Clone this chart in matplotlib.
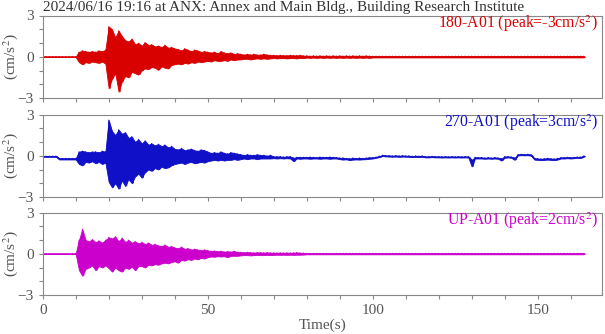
import numpy as np
import matplotlib
matplotlib.use("Agg")
import matplotlib.pyplot as plt

plt.rcParams["font.family"] = ["Liberation Serif", "DejaVu Serif"]
plt.rcParams["mathtext.fontset"] = "stix"

# time of each envelope sample (s), one per second
times = np.arange(0, 165)

# 180-A01: per-second upper / lower envelope (cm/s^2)
hi_180 = [
    0.02, 0.02, 0.02, 0.02, 0.02, 0.02, 0.02, 0.02, 0.02, 0.02,
    0.02, 0.35, 0.45, 0.4, 0.35, 0.4, 0.35, 0.45, 0.4, 0.5,
    2.2, 2.0, 1.4, 1.9, 1.5, 1.2, 1.1, 1.3, 0.9, 1.0,
    0.8, 1.05, 0.85, 0.9, 0.75, 0.8, 0.7, 0.85, 0.65, 0.7,
    0.6, 0.55, 0.45, 0.6, 0.5, 0.4, 0.5, 0.45, 0.35, 0.4,
    0.35, 0.3, 0.35, 0.25, 0.4, 0.3, 0.25, 0.3, 0.2, 0.25,
    0.2, 0.15, 0.2, 0.15, 0.2, 0.15, 0.15, 0.2, 0.15, 0.12,
    0.12, 0.1, 0.12, 0.1, 0.1, 0.12, 0.1, 0.1, 0.12, 0.08,
    0.08, 0.06, 0.08, 0.06, 0.08, 0.06, 0.08, 0.06, 0.08, 0.06,
    0.08, 0.06, 0.08, 0.06, 0.08, 0.06, 0.08, 0.06, 0.08, 0.06,
    0.05, 0.05, 0.05, 0.05, 0.05, 0.05, 0.05, 0.05, 0.05, 0.05,
    0.05, 0.05, 0.05, 0.05, 0.05, 0.05, 0.05, 0.05, 0.05, 0.05,
    0.05, 0.05, 0.05, 0.05, 0.05, 0.05, 0.05, 0.05, 0.05, 0.05,
    0.05, 0.05, 0.05, 0.05, 0.05, 0.05, 0.05, 0.05, 0.05, 0.05,
    0.05, 0.05, 0.05, 0.05, 0.05, 0.05, 0.05, 0.05, 0.05, 0.05,
    0.05, 0.05, 0.05, 0.05, 0.05, 0.05, 0.05, 0.05, 0.05, 0.05,
    0.05, 0.05, 0.05, 0.05, 0.05,
]
lo_180 = [
    -0.02, -0.02, -0.02, -0.02, -0.02, -0.02, -0.02, -0.02, -0.02, -0.02,
    -0.02, -0.4, -0.55, -0.4, -0.45, -0.35, -0.4, -0.45, -0.35, -0.5,
    -2.3, -1.6, -1.2, -2.55, -1.8, -1.4, -1.5, -1.1, -1.2, -1.3,
    -1.0, -0.85, -0.9, -0.75, -0.8, -0.95, -0.7, -0.8, -0.85, -0.6,
    -0.55, -0.5, -0.55, -0.45, -0.5, -0.4, -0.45, -0.35, -0.4, -0.35,
    -0.3, -0.35, -0.25, -0.3, -0.3, -0.25, -0.3, -0.2, -0.25, -0.2,
    -0.2, -0.15, -0.15, -0.2, -0.15, -0.12, -0.15, -0.12, -0.15, -0.12,
    -0.1, -0.12, -0.1, -0.1, -0.12, -0.1, -0.1, -0.12, -0.08, -0.1,
    -0.06, -0.08, -0.06, -0.08, -0.06, -0.08, -0.06, -0.08, -0.06, -0.08,
    -0.06, -0.08, -0.06, -0.08, -0.06, -0.08, -0.06, -0.08, -0.06, -0.08,
    -0.05, -0.05, -0.05, -0.05, -0.05, -0.05, -0.05, -0.05, -0.05, -0.05,
    -0.05, -0.05, -0.05, -0.05, -0.05, -0.05, -0.05, -0.05, -0.05, -0.05,
    -0.05, -0.05, -0.05, -0.05, -0.05, -0.05, -0.05, -0.05, -0.05, -0.05,
    -0.05, -0.05, -0.05, -0.05, -0.05, -0.05, -0.05, -0.05, -0.05, -0.05,
    -0.05, -0.05, -0.05, -0.05, -0.05, -0.05, -0.05, -0.05, -0.05, -0.05,
    -0.05, -0.05, -0.05, -0.05, -0.05, -0.05, -0.05, -0.05, -0.05, -0.05,
    -0.05, -0.05, -0.05, -0.05, -0.05,
]

# 270-A01 (baseline drifts)
hi_270 = [
    -0.02, -0.02, -0.02, -0.02, -0.02, -0.18, -0.18, -0.18, -0.18, -0.18,
    -0.18, 0.3, 0.35, 0.3, 0.25, 0.3, 0.3, 0.25, 0.35, 0.3,
    2.6, 1.8, 1.5, 1.9, 1.6, 1.7, 1.3, 1.4, 1.0, 1.2,
    0.9, 1.1, 0.8, 0.9, 0.75, 0.85, 0.7, 0.8, 0.6, 0.7,
    0.5, 0.45, 0.55, 0.4, 0.45, 0.5, 0.4, 0.35, 0.45, 0.4,
    0.3, 0.2, 0.25, 0.2, 0.3, 0.2, 0.15, 0.25, 0.2, 0.15,
    0.1, 0.05, 0.1, 0.05, 0.05, 0.1, 0.05, 0.05, 0.0, 0.05,
    -0.05, -0.05, -0.05, -0.08, -0.05, -0.05, -0.15, -0.1, -0.1, -0.1,
    -0.1, -0.08, -0.1, -0.12, -0.08, -0.1, -0.1, -0.08, -0.1, -0.12,
    -0.15, -0.15, -0.18, -0.2, -0.15, -0.18, -0.15, -0.18, -0.15, -0.12,
    -0.12, -0.08, -0.02, 0.05, 0.02, 0.02, 0.0, 0.02, 0.0, 0.02,
    0.0, 0.0, -0.02, 0.0, -0.02, 0.0, -0.05, -0.05, -0.03, -0.05,
    -0.05, -0.06, -0.05, -0.06, -0.05, -0.06, -0.05, -0.06, -0.05, -0.06,
    -0.3, -0.1, -0.12, -0.12, -0.15, -0.12, -0.15, -0.12, -0.15, -0.2,
    -0.05, -0.05, -0.08, -0.15, 0.1, 0.12, 0.1, 0.12, 0.08, -0.18,
    -0.2, -0.22, -0.2, -0.18, -0.2, -0.22, -0.18, -0.12, -0.12, -0.1,
    -0.12, -0.1, -0.08, -0.08, 0.0,
]
lo_270 = [
    -0.08, -0.08, -0.08, -0.08, -0.08, -0.27, -0.27, -0.27, -0.27, -0.27,
    -0.27, -0.6, -0.7, -0.45, -0.5, -0.4, -0.55, -0.45, -0.6, -0.5,
    -1.9, -2.3, -2.0, -2.4, -1.8, -2.2, -1.7, -2.0, -1.5, -1.3,
    -1.6, -1.2, -1.0, -1.1, -0.9, -1.0, -0.8, -0.9, -0.85, -0.7,
    -0.6, -0.55, -0.5, -0.6, -0.5, -0.45, -0.55, -0.5, -0.45, -0.5,
    -0.4, -0.35, -0.3, -0.35, -0.3, -0.35, -0.3, -0.3, -0.25, -0.3,
    -0.25, -0.2, -0.25, -0.2, -0.2, -0.25, -0.2, -0.2, -0.2, -0.2,
    -0.18, -0.2, -0.18, -0.2, -0.18, -0.2, -0.4, -0.2, -0.22, -0.2,
    -0.2, -0.22, -0.2, -0.2, -0.22, -0.2, -0.2, -0.22, -0.2, -0.2,
    -0.25, -0.28, -0.26, -0.32, -0.28, -0.27, -0.28, -0.26, -0.25, -0.22,
    -0.2, -0.15, -0.1, -0.02, -0.05, -0.06, -0.07, -0.06, -0.08, -0.06,
    -0.07, -0.08, -0.1, -0.08, -0.1, -0.08, -0.12, -0.12, -0.1, -0.12,
    -0.12, -0.13, -0.12, -0.13, -0.12, -0.13, -0.12, -0.13, -0.12, -0.13,
    -0.78, -0.2, -0.2, -0.2, -0.22, -0.2, -0.22, -0.2, -0.22, -0.35,
    -0.15, -0.12, -0.15, -0.3, 0.02, 0.04, 0.03, 0.04, 0.0, -0.28,
    -0.3, -0.32, -0.3, -0.28, -0.3, -0.32, -0.28, -0.2, -0.2, -0.18,
    -0.2, -0.18, -0.15, -0.16, -0.08,
]

# UP-A01
hi_up = [
    0.02, 0.02, 0.02, 0.02, 0.02, 0.02, 0.02, 0.02, 0.02, 0.02,
    0.02, 1.0, 1.8, 1.0, 0.9, 1.05, 0.85, 0.95, 0.8, 1.0,
    1.2, 1.1, 1.25, 0.9, 1.15, 0.85, 1.0, 0.8, 0.9, 0.75,
    0.85, 0.7, 0.8, 0.65, 0.7, 0.6, 0.55, 0.65, 0.5, 0.55,
    0.45, 0.4, 0.5, 0.35, 0.4, 0.3, 0.35, 0.3, 0.25, 0.3,
    0.25, 0.2, 0.22, 0.18, 0.2, 0.15, 0.18, 0.15, 0.2, 0.12,
    0.12, 0.1, 0.12, 0.1, 0.08, 0.1, 0.1, 0.08, 0.1, 0.08,
    0.08, 0.07, 0.08, 0.07, 0.08, 0.07, 0.08, 0.1, 0.07, 0.06,
    0.04, 0.04, 0.04, 0.04, 0.04, 0.04, 0.04, 0.04, 0.04, 0.04,
    0.04, 0.04, 0.04, 0.04, 0.04, 0.04, 0.04, 0.04, 0.04, 0.04,
    0.04, 0.04, 0.04, 0.04, 0.04, 0.04, 0.04, 0.04, 0.04, 0.04,
    0.04, 0.04, 0.04, 0.04, 0.04, 0.04, 0.04, 0.04, 0.04, 0.04,
    0.04, 0.04, 0.04, 0.04, 0.04, 0.04, 0.04, 0.04, 0.04, 0.04,
    0.04, 0.04, 0.04, 0.04, 0.04, 0.04, 0.04, 0.04, 0.04, 0.04,
    0.04, 0.04, 0.04, 0.04, 0.04, 0.04, 0.04, 0.04, 0.04, 0.04,
    0.04, 0.04, 0.04, 0.04, 0.04, 0.04, 0.04, 0.04, 0.04, 0.04,
    0.04, 0.04, 0.04, 0.04, 0.04,
]
lo_up = [
    -0.02, -0.02, -0.02, -0.02, -0.02, -0.02, -0.02, -0.02, -0.02, -0.02,
    -0.02, -1.2, -1.6, -1.1, -1.0, -0.85, -1.2, -0.9, -1.0, -0.85,
    -1.05, -1.3, -1.0, -1.2, -1.3, -1.0, -1.1, -0.95, -1.2, -0.9,
    -0.9, -1.0, -0.8, -0.85, -0.75, -0.8, -0.7, -0.65, -0.7, -0.6,
    -0.55, -0.65, -0.45, -0.5, -0.4, -0.45, -0.35, -0.4, -0.3, -0.35,
    -0.25, -0.2, -0.22, -0.18, -0.2, -0.18, -0.25, -0.15, -0.15, -0.15,
    -0.12, -0.1, -0.1, -0.12, -0.1, -0.08, -0.1, -0.1, -0.08, -0.1,
    -0.08, -0.07, -0.08, -0.07, -0.08, -0.07, -0.08, -0.07, -0.07, -0.06,
    -0.04, -0.04, -0.04, -0.04, -0.04, -0.04, -0.04, -0.04, -0.04, -0.04,
    -0.04, -0.04, -0.04, -0.04, -0.04, -0.04, -0.04, -0.04, -0.04, -0.04,
    -0.04, -0.04, -0.04, -0.04, -0.04, -0.04, -0.04, -0.04, -0.04, -0.04,
    -0.04, -0.04, -0.04, -0.04, -0.04, -0.04, -0.04, -0.04, -0.04, -0.04,
    -0.04, -0.04, -0.04, -0.04, -0.04, -0.04, -0.04, -0.04, -0.04, -0.04,
    -0.04, -0.04, -0.04, -0.04, -0.04, -0.04, -0.04, -0.04, -0.04, -0.04,
    -0.04, -0.04, -0.04, -0.04, -0.04, -0.04, -0.04, -0.04, -0.04, -0.04,
    -0.04, -0.04, -0.04, -0.04, -0.04, -0.04, -0.04, -0.04, -0.04, -0.04,
    -0.04, -0.04, -0.04, -0.04, -0.04,
]

channels = ["180-A01", "270-A01", "UP-A01"]
peaks = [-3, 3, 2]
colors = ["#d90000", "#1010c8", "#cc00cc"]
uppers = [hi_180, hi_270, hi_up]
lowers = [lo_180, lo_270, lo_up]

title = "2024/06/16 19:16 at ANX: Annex and Main Bldg., Building Research Institute"

fig = plt.figure(figsize=(6.05, 3.34), dpi=100)
W, H = 605, 334
bottoms_px = [98, 197, 295]
grey = "#555555"

for i in range(3):
    ax = fig.add_axes([42.7 / W, 1 - bottoms_px[i] / H, 559.3 / W, 82.5 / H])
    # envelope band plus a zigzag trace on top for texture
    ax.fill_between(times, lowers[i], uppers[i], color=colors[i], lw=0.6)
    x = np.column_stack([times, times + 0.5]).ravel()
    y = np.column_stack([uppers[i], lowers[i]]).ravel()
    ax.plot(x, y, color=colors[i], lw=0.6)

    ax.set_xlim(0, 169.5)
    ax.set_ylim(-3, 3)
    ax.set_yticks([-3, 0, 3])
    ax.set_yticks([-2, -1, 1, 2], minor=True)
    ax.set_xticks([0, 50, 100, 150])
    ax.set_xticks(np.arange(10, 170, 10), minor=True)
    ax.tick_params(which="both", direction="out", length=3, width=0.8,
                   color="#888888", labelcolor=grey, labelsize=11)
    if i < 2:
        ax.tick_params(labelbottom=False)
    for s in ax.spines.values():
        s.set_color("#888888")
        s.set_linewidth(0.8)
    ax.set_ylabel("(cm/s$^2$)", color=grey, fontsize=11)
    ax.yaxis.set_label_coords(-0.04, 0.5)
    ax.text(0.993, 0.9, f"{channels[i]} (peak={peaks[i]}cm/s$^2$)",
            transform=ax.transAxes, ha="right", va="center",
            color=colors[i], fontsize=11.3)
    if i == 2:
        ax.set_xlabel("Time(s)", color=grey, fontsize=11, labelpad=1)

fig.text(42.7 / W, 1 - 8 / H, title, ha="left", va="center",
         color="#333333", fontsize=11)

fig.savefig("out.png", dpi=100)
